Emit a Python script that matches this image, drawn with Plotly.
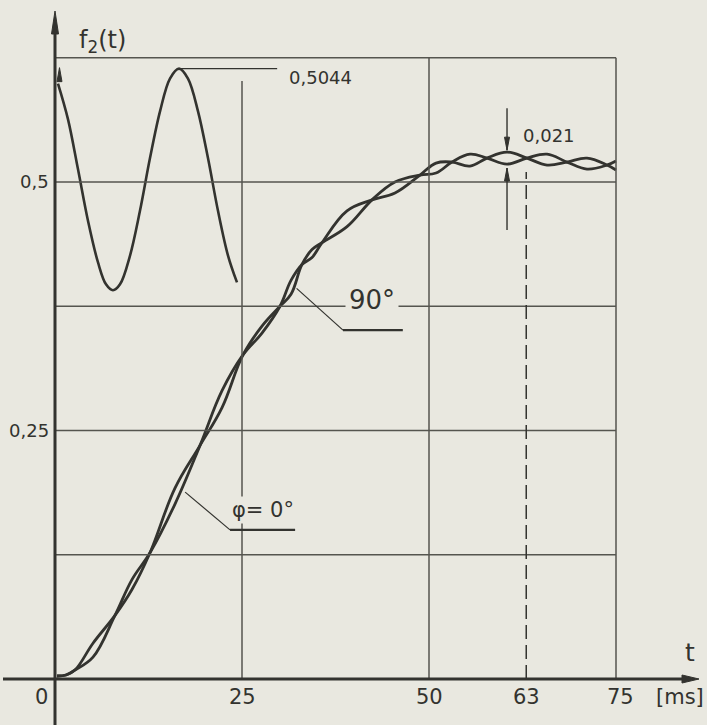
import plotly.graph_objects as go

# ---- data ----
# curve phi = 0 deg
t_phi0 = [0.27, 1.47, 2.67, 5.08, 8.02, 10.29, 12.70, 16.04, 19.39, 22.33, 25.13, 27.67,
          30.08, 31.55, 33.02, 34.36, 35.70, 39.04, 42.38, 45.45, 48.80, 50.94, 53.07,
          55.48, 57.75, 60.43, 63.10, 65.78, 68.45, 71.12, 73.80, 75.00]
f_phi0 = [0.003, 0.004, 0.009, 0.036, 0.064, 0.090, 0.127, 0.192, 0.235, 0.273, 0.326, 0.355,
          0.375, 0.387, 0.417, 0.432, 0.439, 0.455, 0.482, 0.500, 0.507, 0.509, 0.520,
          0.528, 0.524, 0.518, 0.524, 0.528, 0.520, 0.513, 0.517, 0.521]
# curve phi = 90 deg
t_phi90 = [0.27, 1.47, 2.67, 5.08, 8.02, 10.29, 12.70, 16.04, 19.39, 22.33, 25.13, 27.67,
           30.08, 31.55, 33.02, 34.36, 35.70, 39.04, 42.38, 45.45, 48.80, 50.94, 53.07,
           55.48, 57.75, 60.43, 63.10, 65.78, 68.45, 71.12, 73.80, 75.00]
f_phi90 = [0.003, 0.004, 0.009, 0.022, 0.064, 0.100, 0.127, 0.176, 0.235, 0.290, 0.326, 0.348,
           0.375, 0.401, 0.417, 0.424, 0.439, 0.471, 0.482, 0.489, 0.507, 0.519, 0.520,
           0.516, 0.524, 0.530, 0.524, 0.517, 0.520, 0.524, 0.517, 0.512]
# magnified oscillation sketch (top-left inset)
t_inset = [0.40, 1.74, 3.07, 4.41, 5.75, 6.82, 7.75, 8.69, 10.03, 11.36, 12.70, 14.04,
           15.37, 16.58, 17.78, 19.12, 20.45, 21.79, 23.13, 24.33]
f_inset = [0.599, 0.563, 0.513, 0.461, 0.419, 0.397, 0.391, 0.397, 0.426, 0.471, 0.524, 0.571,
           0.604, 0.614, 0.604, 0.571, 0.524, 0.471, 0.426, 0.399]

x_ticks = [0, 25, 50, 63, 75]
x_tick_text = ["0", "25", "50", "63", "75"]
x_tick_shift = [-14, 0, 0, 0, 4]
y_ticks = [0.25, 0.5]
y_tick_text = ["0,25", "0,5"]
grid_t = [25, 50, 75]
grid_f = [0.125, 0.25, 0.375, 0.5, 0.625]
peak_label = "0,5044"
ripple_label = "0,021"
t_ripple = 60.43
ripple_hi, ripple_lo = 0.532, 0.514
t_mark = 63
f_mark_top = 0.51

PAPER = "#e9e8e0"
INK = "#33332f"
GRID = "#55554f"
FONT = "DejaVu Sans"

X0, X1 = -6.952, 86.23
Y0, Y1 = -0.04628, 0.673
PX = (X1 - X0) / 697.0   # data units of t per pixel
PY = (Y1 - Y0) / 715.0   # data units of f per pixel

fig = go.Figure()
for tt, ff in [(t_phi0, f_phi0), (t_phi90, f_phi90)]:
    fig.add_trace(go.Scatter(x=tt, y=ff, mode="lines",
                             line=dict(color=INK, width=2.8, shape="spline", smoothing=1.1),
                             showlegend=False, hoverinfo="skip"))
fig.add_trace(go.Scatter(x=t_inset, y=f_inset, mode="lines",
                         line=dict(color=INK, width=2.6, shape="spline", smoothing=1.0),
                         showlegend=False, hoverinfo="skip"))


def tri_up(xc, ytip, h, w):
    return dict(type="path", path=f"M {xc-w*PX} {ytip-h*PY} L {xc} {ytip} L {xc+w*PX} {ytip-h*PY} Z",
                fillcolor=INK, line=dict(color=INK, width=1))


def tri_down(xc, ytip, h, w):
    return dict(type="path", path=f"M {xc-w*PX} {ytip+h*PY} L {xc} {ytip} L {xc+w*PX} {ytip+h*PY} Z",
                fillcolor=INK, line=dict(color=INK, width=1))


shapes = []
# grid
for g in grid_t:
    top = 0.6016 if g == 25 else grid_f[-1]
    shapes.append(dict(type="line", x0=g, x1=g, y0=0, y1=top, line=dict(color=GRID, width=1.5)))
for g in grid_f:
    shapes.append(dict(type="line", x0=0, x1=grid_t[-1], y0=g, y1=g, line=dict(color=GRID, width=1.5)))
# axes
shapes.append(dict(type="line", x0=X0, x1=X1 - 10 * PX, y0=0, y1=0, line=dict(color=INK, width=3)))
shapes.append(dict(type="line", x0=0, x1=0, y0=Y0, y1=Y1 - 12 * PY, line=dict(color=INK, width=3)))
shapes.append(dict(type="path",
                   path=f"M {X1-18*PX} {-4*PY} L {X1-1*PX} 0 L {X1-18*PX} {4*PY} Z",
                   fillcolor=INK, line=dict(color=INK, width=1)))
shapes.append(dict(type="path",
                   path=f"M {-3.5*PX} {Y1-24*PY} L 0 {Y1-1*PY} L {3.5*PX} {Y1-24*PY} Z",
                   fillcolor=INK, line=dict(color=INK, width=1)))
# dashed marker at 63 ms
shapes.append(dict(type="line", x0=t_mark, x1=t_mark, y0=0, y1=f_mark_top,
                   line=dict(color=INK, width=1.5, dash="14px,6px")))
# ripple dimension
shapes.append(dict(type="line", x0=t_ripple, x1=t_ripple, y0=ripple_hi, y1=ripple_hi + 42 * PY,
                   line=dict(color=INK, width=1.4)))
shapes.append(tri_down(t_ripple, ripple_hi, 13, 2.5))
shapes.append(dict(type="line", x0=t_ripple, x1=t_ripple, y0=ripple_lo, y1=ripple_lo - 62 * PY,
                   line=dict(color=INK, width=1.4)))
shapes.append(tri_up(t_ripple, ripple_lo, 13, 2.5))
# inset start mark
shapes.append(tri_up(t_inset[0] + 0.2, 0.615, 14, 2.5))
# peak leader of inset
shapes.append(dict(type="line", x0=16.6, x1=29.7, y0=max(f_inset), y1=max(f_inset),
                   line=dict(color=INK, width=1.3)))
# label leaders
shapes.append(dict(type="line", x0=17.4, x1=23.4, y0=0.188, y1=0.150, line=dict(color=INK, width=1.2)))
shapes.append(dict(type="line", x0=23.4, x1=32.1, y0=0.150, y1=0.150, line=dict(color=INK, width=2.4)))
shapes.append(dict(type="line", x0=32.3, x1=38.5, y0=0.393, y1=0.351, line=dict(color=INK, width=1.2)))
shapes.append(dict(type="line", x0=38.5, x1=46.5, y0=0.351, y1=0.351, line=dict(color=INK, width=2.4)))
fig.update_layout(shapes=shapes)

ann = []
big = dict(family=FONT, size=21, color=INK)
small = dict(family=FONT, size=18, color=INK)
for v, s, dx in zip(x_ticks, x_tick_text, x_tick_shift):
    ann.append(dict(x=v, y=-0.0181, text=s, showarrow=False, xshift=dx, font=big))
for v, s in zip(y_ticks, y_tick_text):
    ann.append(dict(x=-0.5, y=v, text=s, showarrow=False, xanchor="right", font=small))
ann.append(dict(x=2.9, y=0.641, text="f<sub>2</sub>(t)", showarrow=False, xanchor="left",
                font=dict(family=FONT, size=24, color=INK)))
ann.append(dict(x=84.9, y=0.0262, text="t", showarrow=False, font=dict(family=FONT, size=25, color=INK)))
ann.append(dict(x=83.5, y=-0.0181, text="[ms]", showarrow=False, font=big))
ann.append(dict(x=31.0, y=0.6046, text=peak_label, showarrow=False, xanchor="left", font=small))
ann.append(dict(x=62.3, y=0.547, text=ripple_label, showarrow=False, xanchor="left", font=small))
ann.append(dict(x=27.8, y=0.170, text="φ= 0°", showarrow=False, font=dict(family=FONT, size=21, color=INK),
                bgcolor=PAPER, borderpad=1))
ann.append(dict(x=42.4, y=0.381, text="90°", showarrow=False, font=dict(family=FONT, size=26, color=INK),
                bgcolor=PAPER, borderpad=3))
fig.update_layout(annotations=ann)

fig.update_layout(
    width=707, height=725,
    margin=dict(l=3, r=7, t=10, b=0),
    paper_bgcolor=PAPER, plot_bgcolor=PAPER,
    xaxis=dict(range=[X0, X1], visible=False, fixedrange=True),
    yaxis=dict(range=[Y0, Y1], visible=False, fixedrange=True),
    showlegend=False,
)
fig.write_html("out.html",
               config={"displayModeBar": False, "staticPlot": True},
               post_script="document.body.style.margin='0';document.body.style.overflow='hidden';"
                           "document.body.style.background='" + PAPER + "';")
